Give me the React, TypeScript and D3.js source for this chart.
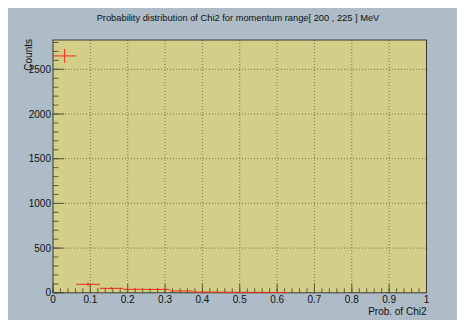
import * as d3 from "d3";
import { useEffect, useRef } from "react";

// bin contents of the 16-bin histogram over [0, 1]
const binCounts = [2650, 95, 50, 39, 38, 20, 8, 6, 5, 4, 0, 0, 0, 0, 0, 0];
const binErrors = [78, 22, 14, 10, 10, 8, 5, 4, 4, 3, 0, 0, 0, 0, 0, 0];
const xTicks = [0, 0.1, 0.2, 0.3, 0.4, 0.5, 0.6, 0.7, 0.8, 0.9, 1];
const yTicks = [0, 500, 1000, 1500, 2000, 2500];

function App() {
  const svgRef = useRef<SVGSVGElement>(null);

  useEffect(() => {
    const svg = d3.select(svgRef.current);
    svg.selectAll("*").remove();
    const g = svg.append("g").attr("transform", "translate(-8,-8)");

    const left = 53, right = 426.5, top = 40, bottom = 292.8;
    const x = d3.scaleLinear().domain([0, 1]).range([left, right]);
    const y = d3.scaleLinear().domain([0, 2828]).range([bottom, top]);
    const font = "'Liberation Sans', Arial, sans-serif";
    const tickCol = "#5e5c3c";

    g.append("rect").attr("x", 8).attr("y", 8).attr("width", 457).attr("height", 312).attr("fill", "#adbcc6");
    g.append("rect")
      .attr("x", left).attr("y", top)
      .attr("width", right - left).attr("height", bottom - top)
      .attr("fill", "#d3ce88");

    // grid
    g.selectAll(".vgrid").data(xTicks.slice(1, -1)).enter().append("line")
      .attr("x1", (d) => x(d)).attr("x2", (d) => x(d))
      .attr("y1", top).attr("y2", bottom)
      .attr("stroke", "#77744a").attr("stroke-width", 1).attr("stroke-dasharray", "1,2");
    g.selectAll(".hgrid").data(yTicks.slice(1)).enter().append("line")
      .attr("x1", left).attr("x2", right)
      .attr("y1", (d) => y(d)).attr("y2", (d) => y(d))
      .attr("stroke", "#77744a").attr("stroke-width", 1).attr("stroke-dasharray", "1,2");

    // ticks
    const xMinor = d3.range(0, 1.0001, 0.02);
    g.selectAll(".xminor").data(xMinor).enter().append("line")
      .attr("x1", (d) => x(d)).attr("x2", (d) => x(d))
      .attr("y1", bottom).attr("y2", bottom - 4.5)
      .attr("stroke", tickCol);
    g.selectAll(".xmajor").data(xTicks).enter().append("line")
      .attr("x1", (d) => x(d)).attr("x2", (d) => x(d))
      .attr("y1", bottom).attr("y2", bottom - 9)
      .attr("stroke", tickCol);
    const yMinor = d3.range(0, 2801, 100);
    g.selectAll(".yminor").data(yMinor).enter().append("line")
      .attr("x1", left).attr("x2", left + 5.5)
      .attr("y1", (d) => y(d)).attr("y2", (d) => y(d))
      .attr("stroke", tickCol);
    g.selectAll(".ymajor").data(yTicks).enter().append("line")
      .attr("x1", left).attr("x2", left + 11)
      .attr("y1", (d) => y(d)).attr("y2", (d) => y(d))
      .attr("stroke", tickCol);

    // frame
    g.append("rect")
      .attr("x", left).attr("y", top)
      .attr("width", right - left).attr("height", bottom - top)
      .attr("fill", "none").attr("stroke", "#3a3a30").attr("stroke-width", 1);

    // histogram with error bars
    const bw = 1 / binCounts.length;
    const bins = binCounts.map((c, i) => ({ x0: i * bw, x1: (i + 1) * bw, c, e: binErrors[i] })).filter((b) => b.c > 0);
    g.selectAll(".hbar").data(bins).enter().append("line")
      .attr("x1", (d) => x(d.x0)).attr("x2", (d) => x(d.x1))
      .attr("y1", (d) => y(d.c)).attr("y2", (d) => y(d.c))
      .attr("stroke", "#f22a1a").attr("stroke-width", 1);
    g.selectAll(".vbar").data(bins).enter().append("line")
      .attr("x1", (d) => x((d.x0 + d.x1) / 2)).attr("x2", (d) => x((d.x0 + d.x1) / 2))
      .attr("y1", (d) => y(d.c - d.e)).attr("y2", (d) => Math.max(top, y(d.c + d.e)))
      .attr("stroke", "#f22a1a").attr("stroke-width", 1);

    // tick labels
    g.selectAll(".xlab").data(xTicks).enter().append("text")
      .attr("x", (d) => x(d)).attr("y", 303)
      .attr("text-anchor", "middle")
      .attr("font-family", font).attr("font-size", 10).attr("fill", "#111")
      .text((d) => String(d));
    g.selectAll(".ylab").data(yTicks).enter().append("text")
      .attr("x", 51).attr("y", (d) => y(d) + 3.6)
      .attr("text-anchor", "end")
      .attr("font-family", font).attr("font-size", 10).attr("fill", "#111")
      .text((d) => String(d));

    // titles
    g.append("text")
      .attr("x", 238).attr("y", 21)
      .attr("text-anchor", "middle")
      .attr("font-family", font).attr("font-size", 9.3).attr("fill", "#111")
      .text("Probability distribution of Chi2 for momentum range[ 200 , 225 ] MeV");
    g.append("text")
      .attr("x", right).attr("y", 314.5)
      .attr("text-anchor", "end")
      .attr("font-family", font).attr("font-size", 10).attr("fill", "#111")
      .text("Prob. of Chi2");
    g.append("text")
      .attr("transform", `translate(31.5, 39) rotate(-90)`)
      .attr("text-anchor", "end")
      .attr("font-family", font).attr("font-size", 10).attr("fill", "#111")
      .text("Counts");
  }, []);

  return <svg ref={svgRef} width={457} height={312} style={{ display: "block" }} />;
}

export default App;
